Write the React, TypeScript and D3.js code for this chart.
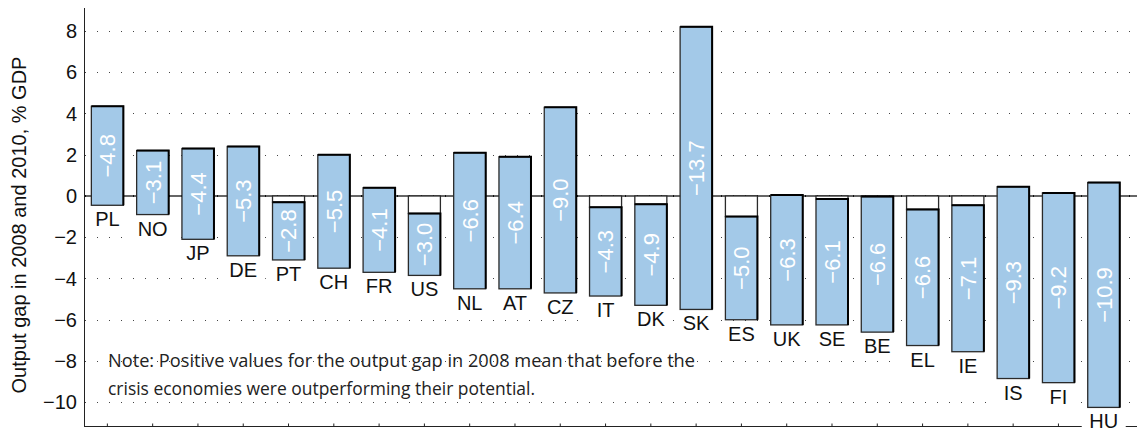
import React from "react";
import * as d3 from "d3";

const categories = ["PL","NO","JP","DE","PT","CH","FR","US","NL","AT","CZ","IT","DK","SK","ES","UK","SE","BE","EL","IE","IS","FI","HU"];
const gap2008 = [4.35, 2.2, 2.3, 2.4, -0.3, 2.0, 0.4, -0.85, 2.1, 1.9, 4.3, -0.55, -0.4, 8.2, -1.0, 0.05, -0.15, -0.03, -0.65, -0.45, 0.45, 0.15, 0.65];
const gap2010 = [-0.45, -0.9, -2.1, -2.9, -3.1, -3.5, -3.7, -3.85, -4.5, -4.5, -4.7, -4.85, -5.3, -5.5, -6.0, -6.25, -6.25, -6.6, -7.25, -7.55, -8.85, -9.05, -10.25];
const changeLabels = [-4.8, -3.1, -4.4, -5.3, -2.8, -5.5, -4.1, -3.0, -6.6, -6.4, -9.0, -4.3, -4.9, -13.7, -5.0, -6.3, -6.1, -6.6, -6.6, -7.1, -9.3, -9.2, -10.9];
const yTicks = [-10, -8, -6, -4, -2, 0, 2, 4, 6, 8];
const yTitle = "Output gap in 2008 and 2010, % GDP";
const noteLines = [
  "Note: Positive values for the output gap in 2008 mean that before the",
  "crisis economies were outperforming their potential.",
];
const noteWidths = [587, 427];

const W = 1137;
const H = 428;
const AX = 84.5;
const GRID_END = 1131;
const BAR_FILL = "#a3c9e8";
const SANS = "'Liberation Sans', Arial, Helvetica, sans-serif";

export default function App() {
  const x = d3.scaleBand<string>().domain(categories).range([84.7, 1126.4]).paddingInner(0.293).paddingOuter(0.147);
  const y = d3.scaleLinear().domain([-11.2, 9.1]).range([427, 8.3]);
  const bw = x.bandwidth();
  const fmt = d3.format(".1f");
  const fmtTick = d3.format("d");
  const y0 = y(0);
  const axisY = 426.5;

  return (
    <svg width={W} height={H} style={{ position: "absolute", left: 0, top: 0, background: "#fff" }} fontFamily={SANS}>
      <rect x={0} y={0} width={W} height={H} fill="#fff" />
      {/* gridlines */}
      {yTicks.filter((t) => t !== 0).map((t) => (
        <line key={"g" + t} x1={85} x2={GRID_END} y1={Math.round(y(t)) + 0.5} y2={Math.round(y(t)) + 0.5}
          stroke="#444" strokeWidth={1} strokeDasharray="1 11" />
      ))}
      {/* zero line */}
      <line x1={AX} x2={W} y1={y0} y2={y0} stroke="#333" strokeWidth={1.5} />
      <line x1={85} x2={GRID_END} y1={y0} y2={y0} stroke="#111" strokeWidth={2} strokeDasharray="1 11" />
      {/* bottom axis */}
      <line x1={AX} x2={W} y1={axisY} y2={axisY} stroke="#222" strokeWidth={1} />
      {categories.map((c) => (
        <line key={"xt" + c} x1={(x(c) as number) + bw / 2} x2={(x(c) as number) + bw / 2} y1={axisY} y2={axisY - 3} stroke="#222" strokeWidth={1} />
      ))}
      {/* y axis */}
      <line x1={AX} x2={AX} y1={8} y2={427} stroke="#222" strokeWidth={1} />
      {yTicks.map((t) => (
        <text key={"yt" + t} x={77} y={y(t)} dy="0.36em" textAnchor="end" fontSize={20} fill="#111">
          {fmtTick(t)}
        </text>
      ))}
      <text transform={`translate(26, 225) rotate(-90)`} textAnchor="middle" fontSize={20} fill="#111">
        {yTitle}
      </text>
      {/* bars */}
      {categories.map((c, i) => {
        const x0 = x(c) as number;
        const top = y(gap2008[i]);
        const bot = y(gap2010[i]);
        return (
          <g key={"b" + c}>
            {gap2008[i] < 0 && (
              <rect x={x0} y={y0} width={bw} height={top - y0} fill="#fff" stroke="#2a2a2a" strokeWidth={1.3} />
            )}
            <rect x={x0} y={top} width={bw} height={bot - top} fill={BAR_FILL} stroke="#2a2a2a" strokeWidth={1.3} />
            <path d={`M${x0},${top} H${x0 + bw} V${bot}`} fill="none" stroke="#000" strokeWidth={2} />
            <text transform={`translate(${x0 + bw / 2}, ${(top + bot) / 2}) rotate(-90)`} textAnchor="middle" dy="0.36em"
              fontSize={22} fill="#fff">
              {fmt(changeLabels[i])}
            </text>
          </g>
        );
      })}
      {/* category labels */}
      {categories.map((c, i) => {
        const cx = (x(c) as number) + bw / 2;
        const bot = y(gap2010[i]);
        return (
          <g key={"l" + c}>
            <rect x={cx - 22} y={bot + 2} width={44} height={25} fill="#fff" />
            <text x={cx} y={bot + 21} textAnchor="middle" fontSize={20} fill="#111">{c}</text>
          </g>
        );
      })}
      {/* note */}
      {noteLines.map((l, i) => (
        <text key={"n" + i} x={108} y={367 + i * 28} fontSize={18} fill="#222"
          fontFamily="'Open Sans', Lato, sans-serif" textLength={noteWidths[i]} lengthAdjust="spacingAndGlyphs">
          {l}
        </text>
      ))}
    </svg>
  );
}
